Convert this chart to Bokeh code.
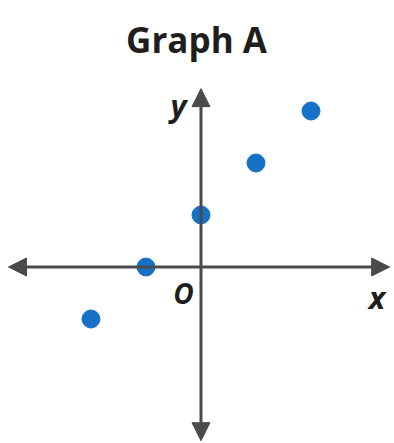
from bokeh.plotting import figure
from bokeh.models import Arrow, NormalHead, Label, Range1d
from bokeh.embed import file_html
from bokeh.resources import INLINE

# Points plotted on Graph A
xs = [-2, -1, 0, 1, 2]
ys = [-1, 0, 1, 2, 3]

title_text = "Graph A"
x_label = "x"
y_label = "y"
origin_label = "O"

AXIS_COLOR = "#4a4a4a"
DOT_COLOR = "#1670c6"
FONT = "Open Sans"

p = figure(width=394, height=443, output_backend="svg", toolbar_location=None,
           x_range=Range1d(-3.645, 3.518), y_range=Range1d(-3.394, 5.125),
           min_border=0)
p.axis.visible = False
p.grid.visible = False
p.outline_line_color = None
p.background_fill_color = "white"
p.border_fill_color = "white"


def head():
    return NormalHead(size=18, fill_color=AXIS_COLOR, line_color=AXIS_COLOR, line_width=1)


# Coordinate axes drawn as double-headed arrows
p.add_layout(Arrow(x_start=-3.5, y_start=0, x_end=3.43, y_end=0,
                   line_color=AXIS_COLOR, line_width=3, start=head(), end=head()))
p.add_layout(Arrow(x_start=0, y_start=-3.34, x_end=0, y_end=3.43,
                   line_color=AXIS_COLOR, line_width=3, start=head(), end=head()))

p.scatter(xs, ys, size=18, fill_color=DOT_COLOR, line_color=DOT_COLOR)

# Axis labels
label_style = dict(text_font=FONT, text_font_style="bold italic", text_color="#1e1e1e",
                   text_align="center", text_baseline="middle")
p.add_layout(Label(x=-0.41, y=3.12, text=y_label, text_font_size="31px", **label_style))
p.add_layout(Label(x=3.2, y=-0.58, text=x_label, text_font_size="31px", **label_style))
p.add_layout(Label(x=-0.32, y=-0.5, text=origin_label, text_font_size="28px", **label_style))

# Title
p.add_layout(Label(x=196, y=404, x_units="screen", y_units="screen", text=title_text,
                   text_font=FONT, text_font_size="35px", text_font_style="bold",
                   text_color="#1e1e1e", text_align="center", text_baseline="middle"))

open("out.html", "w").write(file_html(p, INLINE))
